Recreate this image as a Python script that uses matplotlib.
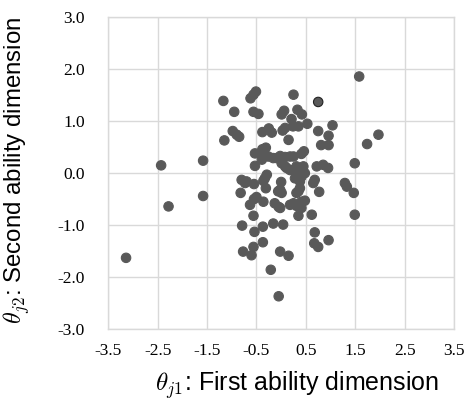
import matplotlib
matplotlib.use("Agg")
import matplotlib.pyplot as plt
import numpy as np

theta1 = [1.58, 0.75, 0.25, -0.51, -0.56, -0.62, -1.17, -0.95, -0.56, -0.46,
          0.01, 0.06, 0.33, 0.42, 0.21, 0.53, 0.24, 0.35, 1.04, 0.75,
          0.96, 0.03, 0.08, -0.38, -0.25, -0.19, -0.98, -0.90, -0.85, -1.15,
          0.15, 1.97, 1.74, 0.81, 0.96, -0.31, -0.38, -0.53, 0.46, 0.41,
          -2.43, -1.58, 1.49, -0.53, -0.36, -0.26, -0.16, -0.39, -0.02, 0.08,
          0.18, 0.25, -0.09, 0.01, 0.08, 0.11, 0.18, 0.28, 0.38, 0.45,
          0.48, 0.31, 0.72, 0.85, 0.95, 0.38,
          -0.80, -0.70, -0.55, -0.33, -0.29, -0.36, -0.31, 0.00, 0.28, 0.38,
          0.41, 0.68, 0.65, -0.06, -0.02, 0.01, 0.38, 0.35, 0.31, 0.77,
          1.29, 1.33, 1.47, 1.49, -0.82, -0.55, -0.50, -0.63, -0.36, -0.13,
          -0.05, -0.02, 0.18, 0.25, 0.31, 0.41, 0.48, 0.41, 0.35, 0.62,
          -0.56, -2.28, -1.58, -3.14, -0.79, -0.54, -0.37, -0.16, 0.04, 0.68,
          0.67, 0.75, 0.96, -0.37, -0.56, -0.77, -0.60, -0.02, 0.15, -0.21,
          -0.05, -0.73]
theta2 = [1.86, 1.37, 1.51, 1.57, 1.51, 1.44, 1.39, 1.18, 1.18, 1.14,
          1.13, 1.20, 1.22, 1.13, 1.04, 0.95, 0.90, 0.90, 0.92, 0.81,
          0.72, 0.82, 0.87, 0.79, 0.86, 0.78, 0.81, 0.74, 0.70, 0.63,
          0.64, 0.74, 0.56, 0.54, 0.54, 0.49, 0.46, 0.38, 0.42, 0.37,
          0.15, 0.24, 0.19, 0.14, 0.32, 0.32, 0.29, 0.26, 0.33, 0.31,
          0.32, 0.32, 0.29, 0.19, 0.13, 0.10, 0.06, 0.03, 0.06, 0.13,
          0.00, 0.13, 0.13, 0.16, 0.10, 0.00,
          -0.13, -0.16, -0.21, -0.10, -0.03, -0.15, -0.29, -0.17, -0.10, -0.16,
          -0.07, -0.13, -0.19, -0.35, -0.32, -0.38, -0.29, -0.35, -0.38, -0.36,
          -0.19, -0.26, -0.38, -0.80, -0.38, -0.50, -0.46, -0.61, -0.55, -0.58,
          -0.65, -0.67, -0.61, -0.58, -0.63, -0.55, -0.53, -0.67, -0.82, -0.80,
          -0.82, -0.64, -0.44, -1.63, -1.01, -1.13, -1.03, -0.97, -0.99, -1.14,
          -1.35, -1.42, -1.29, -1.33, -1.42, -1.51, -1.58, -1.51, -1.59, -1.86,
          -2.37, -0.19]

xticks = [-3.5, -2.5, -1.5, -0.5, 0.5, 1.5, 2.5, 3.5]
yticks = [-3.0, -2.0, -1.0, 0.0, 1.0, 2.0, 3.0]

plt.rcParams['mathtext.fontset'] = 'cm'

fig = plt.figure(figsize=(4.72, 4.07), dpi=100)
ax = fig.add_axes([0.2294, 0.1916, 0.7325, 0.766])

edges = ['#595959'] * len(theta1)
edges[1] = '#222222'
ax.scatter(theta1, theta2, s=46, color='#595959', edgecolors=edges,
           linewidths=0.8, zorder=3)

ax.set_xlim(-3.5, 3.5)
ax.set_ylim(-3.0, 3.0)
ax.set_xticks(xticks)
ax.set_yticks(yticks)
ax.set_xticklabels([f"{v:.1f}" for v in xticks], family='Liberation Serif', fontsize=12.5)
ax.set_yticklabels([f"{v:.1f}" for v in yticks], family='Liberation Serif', fontsize=12.5)
ax.tick_params(length=0, colors='#000000')
ax.tick_params(axis='y', pad=17)
ax.tick_params(axis='x', pad=10)
ax.grid(True, color='#d9d9d9', linewidth=1.0, zorder=0)
ax.set_axisbelow(True)
for sp in ax.spines.values():
    sp.set_color('#d9d9d9')
    sp.set_linewidth(1.0)

fig.text(297 / 472, 1 - 385 / 407, r"$\theta_{j1}$: First ability dimension",
         family='Liberation Sans', fontsize=18, ha='center', va='center')
fig.text(17 / 472, 1 - 170 / 407, r"$\theta_{j2}$: Second ability dimension",
         family='Liberation Sans', fontsize=17.3, ha='center', va='center',
         rotation=90)

fig.savefig("out.png", dpi=100)
